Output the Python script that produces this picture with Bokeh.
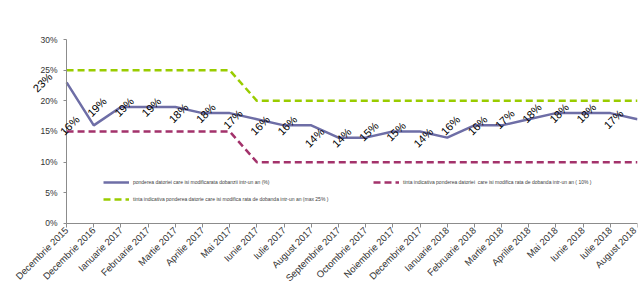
from bokeh.plotting import figure
from bokeh.models import (Range1d, FixedTicker, PrintfTickFormatter, ColumnDataSource,
                          LabelSet, Legend, LegendItem)
from bokeh.core.properties import value
from bokeh.embed import file_html
from bokeh.resources import INLINE

categories = ["Decembrie 2015", "Decembrie 2016", "Ianuarie 2017", "Februarie 2017",
              "Martie 2017", "Aprilie 2017", "Mai 2017", "Iunie 2017", "Iulie 2017",
              "August 2017", "Septembrie 2017", "Octombrie 2017", "Noiembrie 2017",
              "Decembrie 2017", "Ianuarie 2018", "Februarie 2018", "Martie 2018",
              "Aprilie 2018", "Mai 2018", "Iunie 2018", "Iulie 2018", "August 2018"]
pondere = [23, 16, 19, 19, 19, 18, 18, 17, 16, 16, 14, 14, 15, 15, 14, 16, 16, 17, 18, 18, 18, 17]
tinta_max = [25, 25, 25, 25, 25, 25, 25, 20, 20, 20, 20, 20, 20, 20, 20, 20, 20, 20, 20, 20, 20, 20]
tinta_10 = [15, 15, 15, 15, 15, 15, 15, 10, 10, 10, 10, 10, 10, 10, 10, 10, 10, 10, 10, 10, 10, 10]
y_ticks = [0, 5, 10, 15, 20, 25, 30]

label_pondere = "ponderea datoriei care isi modificarata dobanzii intr-un an (%)"
label_10 = "tinta indicativa ponderea datoriei  care isi modifica rata de dobanda intr-un an ( 10% )"
label_max = "tinta indicativa ponderea datorie care isi modifica rata de dobanda intr-un an (max 25% )"

FONT = "Liberation Sans"
PURPLE = "#6E6EA6"
MAGENTA = "#A3326B"
GREEN = "#99CC00"

idx = list(range(len(categories)))
src = ColumnDataSource(dict(x=idx, pondere=pondere, tmax=tinta_max, t10=tinta_10,
                            lbl=[f"{v}%" for v in pondere]))

# The frame fills the canvas; both axes are pinned at the first category / 0%,
# so labels outside the plotted area are shown (and cut at the page edge as in the original).
p = figure(width=638, height=284, x_range=Range1d(-2.43, len(categories) - 1),
           y_range=Range1d(-9.95, 30.98),
           output_backend="svg", toolbar_location=None,
           min_border_left=0, min_border_right=1, min_border_top=33, min_border_bottom=0)
p.outline_line_color = None
p.xgrid.visible = False
p.ygrid.visible = False
p.background_fill_color = "white"

r_max = p.line("x", "tmax", source=src, line_color=GREEN, line_width=2.5, line_dash="7 4")
r_10 = p.line("x", "t10", source=src, line_color=MAGENTA, line_width=2.5, line_dash="7 4")
r_p = p.line("x", "pondere", source=src, line_color=PURPLE, line_width=2.5)

labels = LabelSet(x="x", y="pondere", text="lbl", source=src, x_offset=-24, y_offset=0,
                  angle=45, angle_units="deg", text_align="center", text_baseline="middle",
                  text_font_size="11px", text_color="black", text_font=value(FONT))
p.add_layout(labels)

# x axis
p.xaxis.fixed_location = y_ticks[0]
p.xaxis.ticker = FixedTicker(ticks=idx)
p.xaxis.bounds = (idx[0], idx[-1])
p.xaxis.major_label_overrides = {i: c for i, c in zip(idx, categories)}
p.xaxis.major_label_orientation = 0.785398
p.xaxis.major_label_text_font_size = "9.5px"
p.xaxis.major_label_text_font = FONT
p.xaxis.major_label_text_color = "#333333"
p.xaxis.major_label_standoff = 1
p.xaxis.axis_line_color = "#8c8c8c"
p.xaxis.major_tick_line_color = "#8c8c8c"
p.xaxis.major_tick_out = 4
p.xaxis.major_tick_in = 0
p.xaxis.minor_tick_line_color = None

# y axis
p.yaxis.fixed_location = idx[0]
p.yaxis.ticker = FixedTicker(ticks=y_ticks)
p.yaxis.bounds = (y_ticks[0], y_ticks[-1])
p.yaxis.formatter = PrintfTickFormatter(format="%d%%")
p.yaxis.major_label_text_font_size = "8.5px"
p.yaxis.major_label_text_font = FONT
p.yaxis.major_label_text_color = "#333333"
p.yaxis.major_label_standoff = 6
p.yaxis.axis_line_color = "#8c8c8c"
p.yaxis.major_tick_line_color = "#8c8c8c"
p.yaxis.major_tick_out = 3
p.yaxis.major_tick_in = 0
p.yaxis.minor_tick_line_color = None

def make_legend(items, loc):
    lg = Legend(items=items, location=loc, orientation="vertical")
    lg.label_text_font_size = "5px"
    lg.label_text_font = FONT
    lg.label_text_color = "#404040"
    lg.glyph_width = 26
    lg.glyph_height = 6
    lg.label_height = 6
    lg.label_standoff = 4
    lg.spacing = 11
    lg.padding = 0
    lg.margin = 0
    lg.border_line_alpha = 0
    lg.background_fill_alpha = 0
    return lg

leg1 = make_legend([LegendItem(label=label_pondere, renderers=[r_p]),
                    LegendItem(label=label_max, renderers=[r_max])], (103, 82))
leg2 = make_legend([LegendItem(label=label_10, renderers=[r_10])], (373, 99))
p.add_layout(leg1)
p.add_layout(leg2)

open("out.html", "w").write(file_html(p, INLINE))
